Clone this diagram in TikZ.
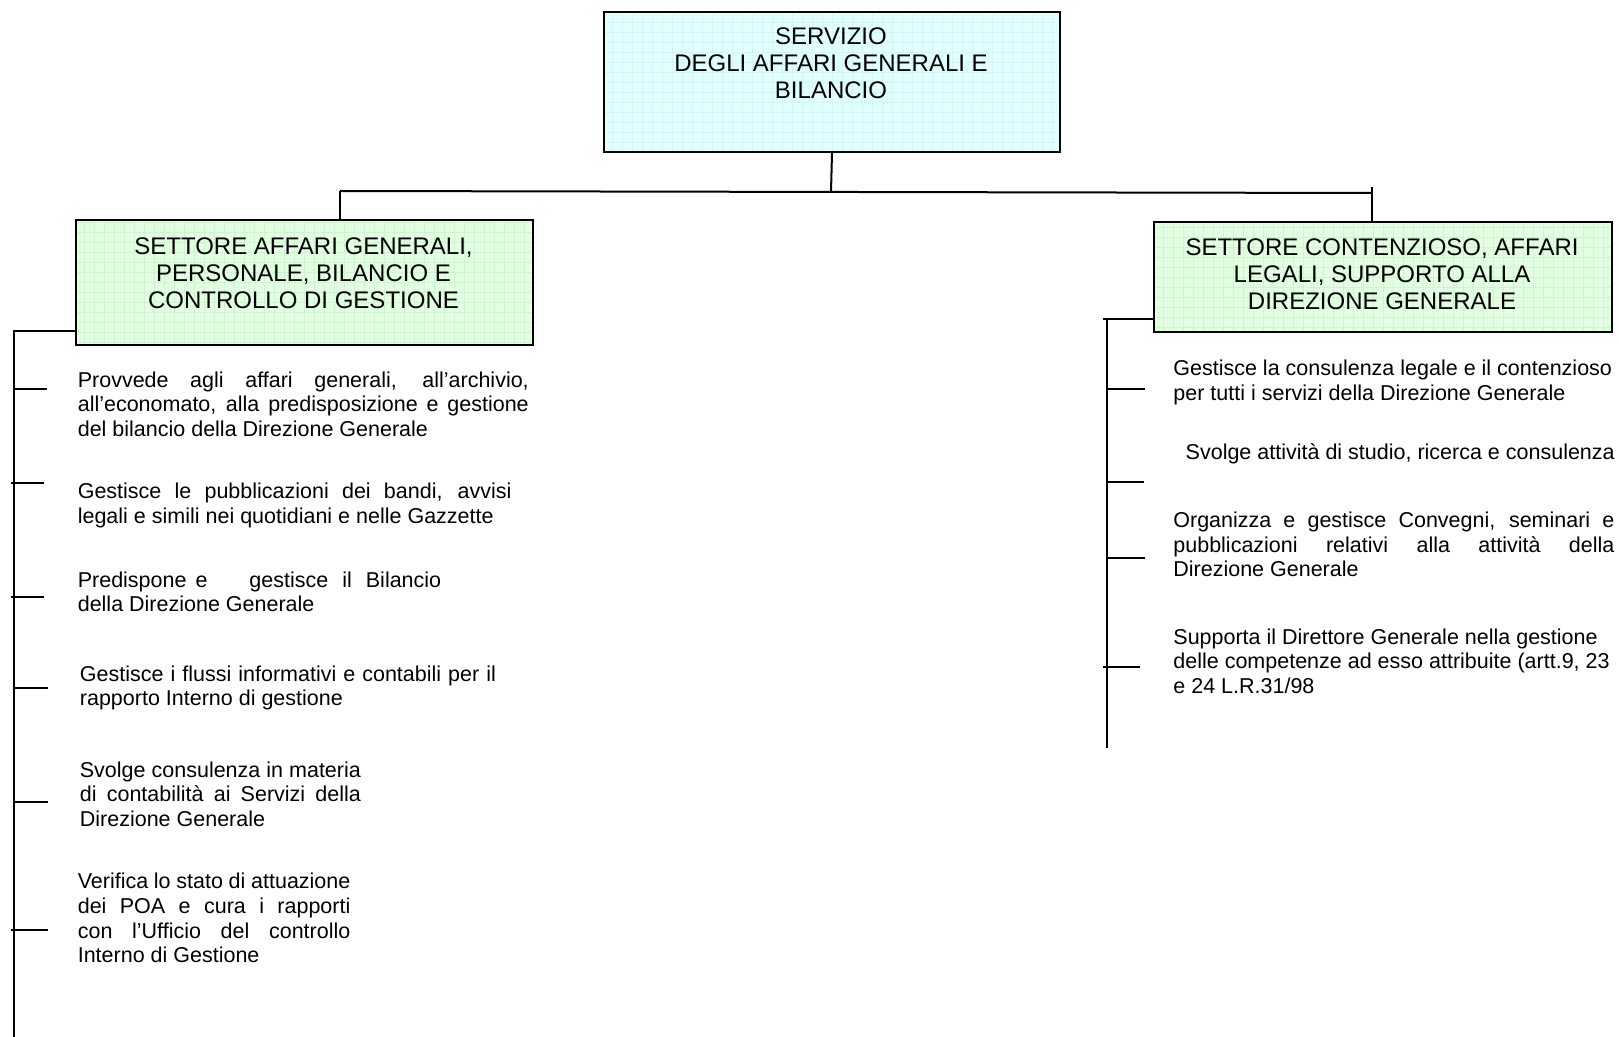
\documentclass[tikz,border=0pt]{standalone}
\usepackage{fontspec}
\setmainfont{Liberation Sans}
\newdimen\pxu \pxu=0.5pt
\definecolor{cyanfill}{HTML}{E2FFFF}
\definecolor{cyangrid}{HTML}{D2F5F7}
\definecolor{greenfill}{HTML}{E2FFE2}
\definecolor{greengrid}{HTML}{D0F4D0}
\newcommand{\J}[2]{\hbox to #1\pxu{#2}}
\begin{document}
\begin{tikzpicture}[x=0.5pt,y=-0.5pt,
  boxbase/.style={draw=black, line width=1pt, inner sep=0pt, anchor=north west},
  cyanbox/.style={boxbase, fill=cyanfill, path picture={\draw[cyangrid, line width=0.3pt, step=5pt] (path picture bounding box.south west) grid (path picture bounding box.north east);}},
  greenbox/.style={boxbase, fill=greenfill, path picture={\draw[greengrid, line width=0.3pt, step=5pt] (path picture bounding box.south west) grid (path picture bounding box.north east);}},
  boxtext/.style={anchor=north, inner sep=0pt, align=center, font=\fontsize{12}{13.4}\selectfont},
  bodytext/.style={anchor=north west, inner sep=0pt, align=left, font=\fontsize{10.75}{12.35}\selectfont},
  conn/.style={draw=black, line width=1pt}
]
\useasboundingbox (0,0) rectangle (1619,1037);

% boxes
\node[cyanbox, minimum width=456\pxu, minimum height=140\pxu] (top) at (603,11) {};
\node[boxtext] (toptext) at (831,27.3) {SERVIZIO\\DEGLI AFFARI GENERALI E\\BILANCIO};

\node[greenbox, minimum width=457\pxu, minimum height=125\pxu] (lbox) at (75,219) {};
\node[boxtext] (lboxtext) at (303.5,237.3) {SETTORE AFFARI GENERALI,\\PERSONALE, BILANCIO E\\CONTROLLO DI GESTIONE};

\node[greenbox, minimum width=458\pxu, minimum height=110\pxu] (rbox) at (1153,221) {};
\node[boxtext] (rboxtext) at (1382,238.3) {SETTORE CONTENZIOSO, AFFARI\\LEGALI, SUPPORTO ALLA\\DIREZIONE GENERALE};

% bus
\coordinate (busL) at (340,191);
\coordinate (busM) at (831,192);
\coordinate (busR) at (1372,193);
\coordinate (busRtop) at (1372,187);
\draw[conn] (top.south) -- (busM);
\draw[conn] (busL) -- (busR);
\draw[conn] (busL) -- (busL |- lbox.north);
\draw[conn] (busRtop) -- (busRtop |- rbox.north);

% left spine
\coordinate (lspT) at (14,331);
\coordinate (lspB) at (14,1037);
\draw[conn] (lbox.west |- lspT) -- (lspT) -- (lspB);
\coordinate (lt1) at (47,389);
\coordinate (lt2) at (44,483);
\coordinate (lt3) at (44,597);
\coordinate (lt4) at (48,688);
\coordinate (lt5) at (48,802);
\coordinate (lt6) at (48,930);
\draw[conn] (lt1 -| lspT) -- (lt1);
\draw[conn] ([xshift=-1.5pt]lt2 -| lspT) -- (lt2);
\draw[conn] ([xshift=-1.5pt]lt3 -| lspT) -- (lt3);
\draw[conn] (lt4 -| lspT) -- (lt4);
\draw[conn] (lt5 -| lspT) -- (lt5);
\draw[conn] ([xshift=-1.5pt]lt6 -| lspT) -- (lt6);

% right spine
\coordinate (rspT) at (1107,319);
\coordinate (rspB) at (1107,748);
\coordinate (rstubL) at (1103,319);
\draw[conn] (rbox.west |- rspT) -- (rstubL);
\draw[conn] (rspT) -- (rspB);
\coordinate (rt1) at (1145,389);
\coordinate (rt2) at (1144,482);
\coordinate (rt3) at (1145,558);
\coordinate (rt4) at (1140,667);
\draw[conn] (rt1 -| rspT) -- (rt1);
\draw[conn] (rt2 -| rspT) -- (rt2);
\draw[conn] (rt3 -| rspT) -- (rt3);
\draw[conn] ([xshift=-2pt]rt4 -| rspT) -- (rt4);

% left texts
\node[bodytext] (l1) at (77.4,371.1) {\J{451}{Provvede agli affari generali, all’archivio,}\\\J{451}{all’economato, alla predisposizione e gestione}\\del bilancio della Direzione Generale};
\node[bodytext] (l2) at (77.4,482.5) {\J{433.6}{Gestisce le pubblicazioni dei bandi, avvisi}\\legali e simili nei quotidiani e nelle Gazzette};
\node[bodytext] (l3) at (77.4,571.3) {Predispone\hspace{4.5pt}e\hspace{21pt}gestisce\hspace{7pt}il\hspace{7pt}Bilancio\\della Direzione Generale};
\node[bodytext] (l4) at (79.5,665.3) {\J{416}{Gestisce i flussi informativi e contabili per il}\\rapporto Interno di gestione};
\node[bodytext] (l5) at (79.5,761.3) {\J{281}{Svolge consulenza in materia}\\\J{281}{di contabilità ai Servizi della}\\Direzione Generale};
\node[bodytext] (l6) at (77.4,872.8) {\J{272.6}{Verifica lo stato di attuazione}\\\J{272.6}{dei POA e cura i rapporti}\\\J{272.6}{con l’Ufficio del controllo}\\Interno di Gestione};

% right texts
\node[bodytext] (r1) at (1173,359.7) {Gestisce la consulenza legale e il contenzioso\\per tutti i servizi della Direzione Generale};
\node[bodytext] (r2) at (1185.3,443.3) {Svolge attività di studio, ricerca e consulenza};
\node[bodytext] (r3) at (1173,511.4) {\J{441}{Organizza e gestisce Convegni, seminari e}\\\J{441}{pubblicazioni relativi alla attività della}\\Direzione Generale};
\node[bodytext] (r4) at (1173,628.1) {Supporta il Direttore Generale nella gestione\\delle competenze ad esso attribuite (artt.9, 23\\e 24 L.R.31/98};
\end{tikzpicture}
\end{document}
